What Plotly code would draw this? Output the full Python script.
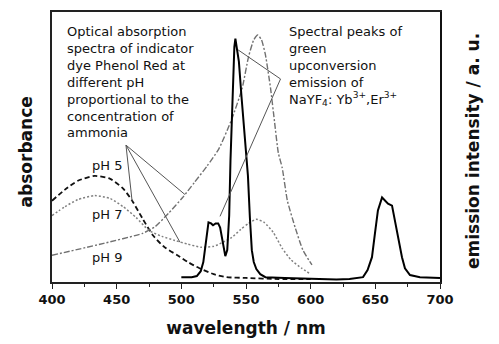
import plotly.graph_objects as go

# ---- data (arbitrary units 0..1) ----
wl_ph5 = [400, 410, 420, 433, 445, 455, 462, 470, 478, 487, 497, 505, 514, 525, 535, 550, 575, 600]
abs_ph5 = [0.301, 0.342, 0.375, 0.393, 0.382, 0.346, 0.301, 0.235, 0.173, 0.129, 0.099, 0.074,
           0.051, 0.029, 0.018, 0.015, 0.011, 0.011]

wl_ph7 = [400, 410, 420, 433, 445, 455, 465, 475, 485, 495, 505, 515, 525, 532, 539, 546, 552,
          558, 564, 571, 578, 585, 593, 600]
abs_ph7 = [0.246, 0.279, 0.305, 0.320, 0.309, 0.279, 0.239, 0.191, 0.169, 0.154, 0.140, 0.129,
           0.132, 0.147, 0.165, 0.195, 0.217, 0.232, 0.221, 0.184, 0.125, 0.081, 0.051, 0.029]

wl_ph9 = [400, 440, 470, 480, 490, 501, 510, 520, 529, 539, 547, 552, 556, 559, 562, 565, 569,
          572, 575, 578, 582, 588, 594, 601]
abs_ph9 = [0.099, 0.143, 0.180, 0.206, 0.254, 0.313, 0.368, 0.430, 0.493, 0.603, 0.717, 0.835,
           0.897, 0.915, 0.897, 0.842, 0.717, 0.596, 0.478, 0.423, 0.301, 0.202, 0.118, 0.063]

wl_em = [500, 508, 512, 515, 517, 518.5, 520, 521, 523, 524.5, 526.5, 528.5, 530, 532, 534,
         535.5, 537, 538, 539.5, 541, 541.8, 543, 544.5, 546.5, 548.5, 550.5, 551.5, 553, 554.5,
         556, 558, 561, 565, 580, 600, 620, 630, 638, 640.5, 644, 647.4, 649.7, 652, 655.2,
         657.5, 659.8, 662.9, 665.2, 667.5, 670.6, 672.9, 676.8, 684.5, 700]
em_int = [0.018, 0.018, 0.022, 0.040, 0.074, 0.136, 0.199, 0.221, 0.217, 0.210, 0.217, 0.217,
          0.202, 0.154, 0.096, 0.118, 0.246, 0.449, 0.669, 0.871, 0.901, 0.860, 0.816, 0.688,
          0.577, 0.467, 0.393, 0.239, 0.118, 0.074, 0.048, 0.029, 0.018, 0.015, 0.011, 0.009,
          0.011, 0.015, 0.018, 0.044, 0.092, 0.180, 0.265, 0.313, 0.301, 0.290, 0.283, 0.228,
          0.165, 0.092, 0.051, 0.026, 0.018, 0.015]

x_ticks = [400, 450, 500, 550, 600, 650, 700]

ph_labels = ["pH 5", "pH 7", "pH 9"]
ph_label_pos = [(0.142, 0.430), (0.142, 0.250), (0.142, 0.092)]

text_abs = ("Optical absorption<br>spectra of indicator<br>dye Phenol Red at<br>different pH<br>"
            "proportional to the<br>concentration of<br>ammonia")
text_em = ("Spectral peaks of<br>green<br>upconversion<br>emission of<br>"
           "NaYF<sub>4</sub>: Yb<sup>3+</sup>,Er<sup>3+</sup>")

# callout lines: apex -> targets (wavelength, axis units)
callout_abs_apex = (457.2, 0.507)
callout_abs_targets = [(461.9, 0.301), (499.0, 0.147), (502.8, 0.324)]
callout_em_apex = (576.7, 0.752)
callout_em_targets = [(543.8, 0.860), (529.9, 0.243)]

FONT = "DejaVu Sans"

fig = go.Figure()
fig.add_trace(go.Scatter(x=wl_ph5, y=abs_ph5, mode="lines", name="pH 5",
                         line=dict(color="#111111", width=1.8, dash="5px,3px", shape="spline", smoothing=0.6)))
fig.add_trace(go.Scatter(x=wl_ph7, y=abs_ph7, mode="lines", name="pH 7",
                         line=dict(color="#808080", width=1.5, dash="2px,2px", shape="spline", smoothing=0.6)))
fig.add_trace(go.Scatter(x=wl_ph9, y=abs_ph9, mode="lines", name="pH 9",
                         line=dict(color="#707070", width=1.4, dash="6px,2px,2px,2px", shape="spline", smoothing=0.5)))
fig.add_trace(go.Scatter(x=wl_em, y=em_int, mode="lines", name="emission", yaxis="y2",
                         line=dict(color="#000000", width=2)))

shapes = []
for (tx, ty) in callout_abs_targets:
    shapes.append(dict(type="line", xref="x", yref="y", x0=callout_abs_apex[0], y0=callout_abs_apex[1],
                       x1=tx, y1=ty, line=dict(color="#555555", width=1)))
for (tx, ty) in callout_em_targets:
    shapes.append(dict(type="line", xref="x", yref="y", x0=callout_em_apex[0], y0=callout_em_apex[1],
                       x1=tx, y1=ty, line=dict(color="#555555", width=1)))

annotations = [
    dict(text=text_abs, x=0.034, y=0.963, xref="paper", yref="paper", xanchor="left", yanchor="top",
         align="left", showarrow=False, font=dict(family=FONT, size=13, color="#111")),
    dict(text=text_em, x=0.606, y=0.963, xref="paper", yref="paper", xanchor="left", yanchor="top",
         align="left", showarrow=False, font=dict(family=FONT, size=13, color="#111")),
    dict(text="<b>absorbance</b>", x=-0.067, y=0.48, xref="paper", yref="paper", textangle=-90,
         xanchor="center", yanchor="middle",
         showarrow=False, font=dict(family=FONT, size=17, color="#111")),
    dict(text="<b>emission intensity / a. u.</b>", x=1.085, y=0.485, xref="paper", yref="paper",
         xanchor="center", yanchor="middle",
         textangle=-90, showarrow=False, font=dict(family=FONT, size=17, color="#111")),
]
for lab, (px, py) in zip(ph_labels, ph_label_pos):
    annotations.append(dict(text=lab, x=px, y=py, xref="paper", yref="paper", showarrow=False,
                            xanchor="center", yanchor="middle",
                            font=dict(family=FONT, size=13, color="#111")))

# page body has an 8px default margin: figure is sized to fit the 499x344 window
fig.update_layout(
    width=491, height=336,
    margin=dict(l=44, r=59, t=2, b=62),
    paper_bgcolor="white", plot_bgcolor="white",
    showlegend=False,
    font=dict(family=FONT, color="#111"),
    shapes=shapes,
    annotations=annotations,
    xaxis=dict(range=[400, 700], tickvals=x_ticks, ticktext=[f"<b>{v}</b>" for v in x_ticks],
               ticks="outside", ticklen=5, tickwidth=1.2, tickcolor="#222",
               minor=dict(dtick=25, tick0=400, ticks="outside", ticklen=3, tickwidth=1, tickcolor="#222"),
               showline=True, mirror=True, linecolor="#222", linewidth=1.5,
               showgrid=False, zeroline=False, tickfont=dict(family=FONT, size=13, color="#111"),
               title=dict(text="<b>wavelength / nm</b>", font=dict(family=FONT, size=17, color="#111"),
                          standoff=16)),
    yaxis=dict(range=[0, 1], showticklabels=False, ticks="", showgrid=False, zeroline=False,
               showline=True, mirror=True, linecolor="#222", linewidth=1.5),
    yaxis2=dict(range=[0, 1], overlaying="y", side="right", showticklabels=False, ticks="",
                showgrid=False, zeroline=False, showline=True, linecolor="#111", linewidth=2),
)

fig.write_html("out.html")
